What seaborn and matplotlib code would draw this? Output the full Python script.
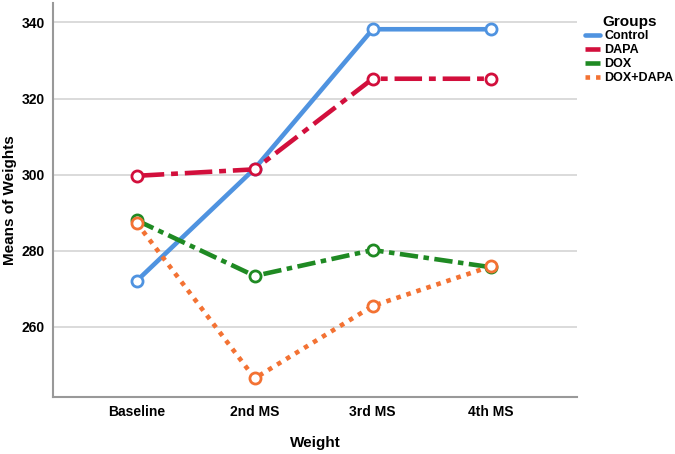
import pandas as pd
import matplotlib.pyplot as plt
import seaborn as sns

sns.set_style("white")
plt.rcParams['font.family'] = ['Liberation Sans', 'DejaVu Sans']
plt.rcParams['font.weight'] = 'bold'
plt.rcParams['text.color'] = 'black'
plt.rcParams['axes.labelcolor'] = 'black'
plt.rcParams['xtick.color'] = 'black'
plt.rcParams['ytick.color'] = 'black'

timepoints = ["Baseline", "2nd MS", "3rd MS", "4th MS"]
groups = ["Control", "DAPA", "DOX", "DOX+DAPA"]
control = [272.1, 301.6, 338.2, 338.2]
dapa = [299.7, 301.4, 325.2, 325.2]
dox = [288.0, 273.4, 280.2, 275.7]
dox_dapa = [287.3, 246.5, 265.5, 275.9]

colors = {"Control": "#4f93e0", "DAPA": "#d20f3c",
          "DOX": "#1f8a23", "DOX+DAPA": "#f37233"}
dashes = {"Control": "", "DAPA": (6, 1.5, 1.5, 1.5),
          "DOX": (4, 1.2, 1.2, 1.2), "DOX+DAPA": (1, 1.3)}

df = pd.DataFrame({
    "Weight": timepoints * 4,
    "Means of Weights": control + dapa + dox + dox_dapa,
    "Groups": [g for g in groups for _ in timepoints],
})

fig = plt.figure(figsize=(6.75, 4.54), dpi=100)
ax = fig.add_axes([0.0785, 0.1256, 0.776, 0.867])

ax.grid(axis="y", color="#d4d4d4", lw=1.2, zorder=0)
sns.lineplot(data=df, x="Weight", y="Means of Weights", hue="Groups",
             style="Groups", palette=colors, dashes=dashes,
             markers={g: "o" for g in groups}, lw=3.3, ms=8,
             ax=ax, sort=False)
for line in ax.get_lines():
    line.set_markerfacecolor("white")
    line.set_markeredgecolor(line.get_color())
    line.set_markeredgewidth(2)

ax.set_xlim(-0.71, 3.73)
ax.set_ylim(241.6, 345)
ax.set_yticks([260, 280, 300, 320, 340])
for s in ["top", "right"]:
    ax.spines[s].set_visible(False)
for s in ["left", "bottom"]:
    ax.spines[s].set_color("#999999")
    ax.spines[s].set_linewidth(1.5)
ax.tick_params(length=0, labelsize=10, pad=6)
ax.set_xlabel("Weight", fontsize=11, fontweight="bold", labelpad=12)
ax.set_ylabel("Means of Weights", fontsize=11, fontweight="bold", labelpad=3)

leg = ax.legend(title="Groups", loc="upper left", bbox_to_anchor=(0.995, 1.0),
                frameon=False, fontsize=9, title_fontsize=11,
                handlelength=1.2, handletextpad=0.3, labelspacing=0.15)
leg.get_title().set_fontweight("bold")
for h in leg.get_lines():
    h.set_marker("")
    h.set_linewidth(3.3)

fig.savefig("out.png")
